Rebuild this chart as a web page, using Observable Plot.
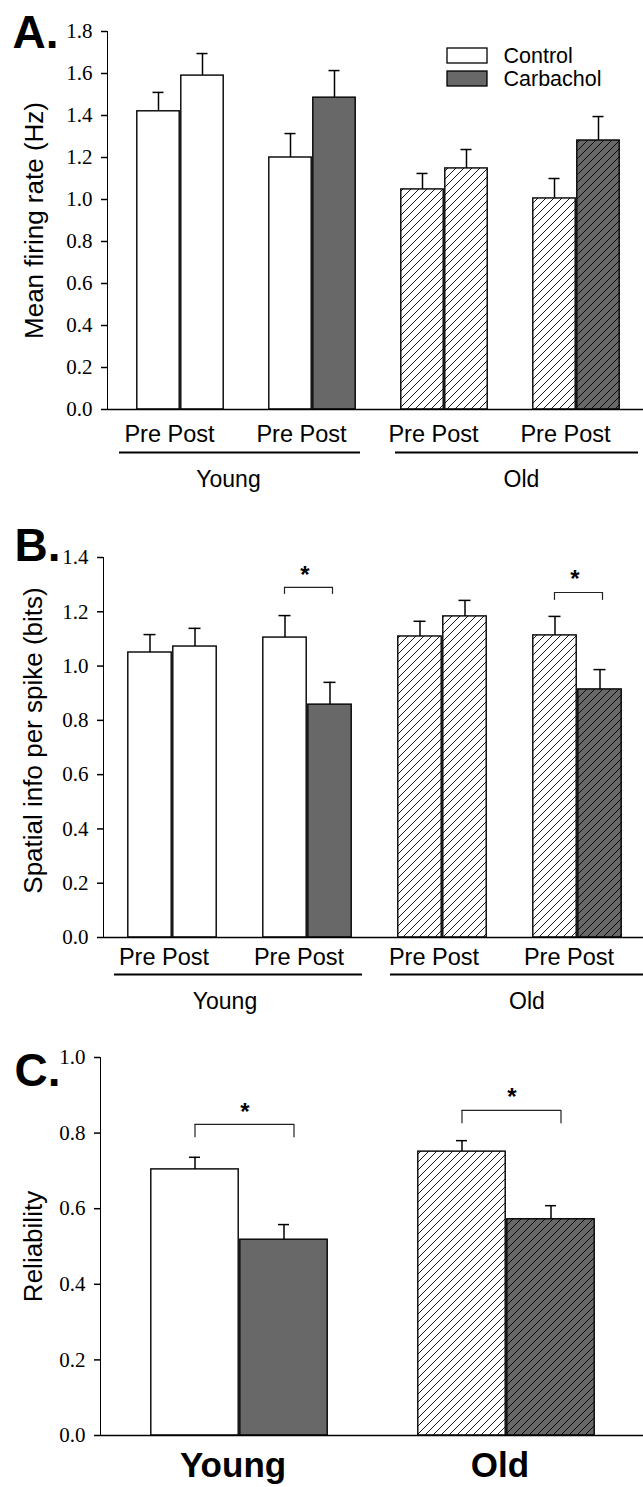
<!DOCTYPE html>
<html><head><meta charset="utf-8">
<script src="https://cdn.jsdelivr.net/npm/d3@7"></script>
<script src="https://cdn.jsdelivr.net/npm/@observablehq/plot@0.6"></script>
<style>
html,body{margin:0;padding:0;background:#fff}
#root{position:relative;width:643px;height:1487px;overflow:hidden;background:#fff}
#root svg{position:absolute;left:0;display:block}
#root g[aria-label^="y-axis"] path, #root g[aria-label^="y-axis"] line{stroke-width:1.5px}
</style></head><body>
<div id="root"></div>
<script>
// ---------------- data ----------------
const ages = ["Young", "Old"];
const barAge   = ["Young","Young","Young","Young","Old","Old","Old","Old"];
const barDrug  = ["Control","Control","Carbachol","Carbachol","Control","Control","Carbachol","Carbachol"];
const barPhase = ["Pre","Post","Pre","Post","Pre","Post","Pre","Post"];

// Panel A: mean firing rate (Hz)
const rateMean = [1.42, 1.59, 1.20, 1.485, 1.048, 1.148, 1.005, 1.281];
const rateSEM  = [0.09, 0.105, 0.114, 0.129, 0.076, 0.09, 0.095, 0.114];
// Panel B: spatial info per spike (bits)
const infoMean = [1.05, 1.072, 1.105, 0.858, 1.109, 1.183, 1.113, 0.914];
const infoSEM  = [0.066, 0.067, 0.081, 0.082, 0.056, 0.059, 0.07, 0.073];
// Panel C: reliability
const relAge  = ["Young","Young","Old","Old"];
const relDrug = ["Control","Carbachol","Control","Carbachol"];
const relMean = [0.704, 0.518, 0.751, 0.572];
const relSEM  = [0.032, 0.040, 0.029, 0.036];

const ticksA = [0, 0.2, 0.4, 0.6, 0.8, 1.0, 1.2, 1.4, 1.6, 1.8];
const ticksB = [0, 0.2, 0.4, 0.6, 0.8, 1.0, 1.2, 1.4];
const ticksC = [0, 0.2, 0.4, 0.6, 0.8, 1.0];

const legendLabels = ["Control", "Carbachol"];
const titleA = "Mean firing rate (Hz)";
const titleB = "Spatial info per spike (bits)";
const titleC = "Reliability";

// significance brackets (bar index from, to; bracket level, leg end, star level)
const sigB = [
  {from: 2, to: 3, y: 1.29, leg: 1.264, star: 1.352},
  {from: 6, to: 7, y: 1.271, leg: 1.242, star: 1.338}
];
const sigC = [
  {from: 0, to: 1, y: 0.823, leg: 0.788, star: 0.868},
  {from: 2, to: 3, y: 0.86, leg: 0.825, star: 0.907}
];

// ---------------- helpers ----------------
const DARK = "#686868";
const sans = "'Liberation Sans', Arial, sans-serif";
const serif = "'Liberation Serif', 'Times New Roman', serif";
const keyAB = i => `${barAge[i]} ${barDrug[i]} ${barPhase[i]}`;
const keyC = i => `${relAge[i]} ${relDrug[i]}`;
const condAB = i => (barDrug[i] === "Carbachol" && barPhase[i] === "Post") ? "Carbachol" : "Control";

function fillFor(panel, age, cond) {
  if (age === "Young") return cond === "Control" ? "white" : DARK;
  return `url(#${panel}-hatch-${cond === "Control" ? "light" : "dark"})`;
}

// band domain with spacer slots between pairs
const domainAB = [];
barAge.forEach((a, i) => {
  if (i > 0 && i % 2 === 0) domainAB.push(" gap" + i);
  domainAB.push(keyAB(i));
});
const domainC = [keyC(0), keyC(1), " gap", keyC(2), keyC(3)];

function rowsAB(means, sems, panel) {
  return barAge.map((age, i) => ({
    key: keyAB(i), age, drug: barDrug[i], phase: barPhase[i],
    mean: means[i], hi: means[i] + sems[i], fill: fillFor(panel, age, condAB(i))
  }));
}
const pairsAB = [0, 2, 4, 6].map(i => ({key: keyAB(i), age: barAge[i], label: barPhase[i] + " " + barPhase[i + 1]}));
const spansAB = ages.map(a => {
  const idx = barAge.map((x, i) => x === a ? i : -1).filter(i => i >= 0);
  return {age: a, from: keyAB(idx[0]), to: keyAB(idx[idx.length - 1]), mid: domainAB[domainAB.indexOf(keyAB(idx[1])) + 1]};
});

function addPatterns(svg, id) {
  const defs = d3.select(svg).insert("defs", ":first-child");
  [["light", "white"], ["dark", DARK]].forEach(([n, bg]) => {
    const p = defs.append("pattern").attr("id", `${id}-hatch-${n}`)
      .attr("patternUnits", "userSpaceOnUse").attr("width", 8).attr("height", 8);
    p.append("rect").attr("width", 8).attr("height", 8).attr("fill", bg);
    p.append("path").attr("d", "M-2,2L2,-2M0,8L8,0M6,10L10,6")
      .attr("stroke", "black").attr("stroke-width", 0.9).attr("fill", "none");
  });
}

function barMarks(rows, capInset) {
  return [
    Plot.barY(rows, {x: "key", y: "mean", fill: "fill", stroke: "black", strokeWidth: 1.4, insetLeft: 0.8, insetRight: 0.8}),
    Plot.ruleX(rows, {x: "key", y1: "mean", y2: "hi", stroke: "black", strokeWidth: 1.5}),
    Plot.tickY(rows, {x: "key", y: "hi", stroke: "black", strokeWidth: 1.5, insetLeft: capInset, insetRight: capInset}),
    Plot.ruleY([0], {stroke: "black", strokeWidth: 1.6})
  ];
}

function sigMarks(sigs, keyFn, o) {
  const d = sigs.map(s => ({from: keyFn(s.from), to: keyFn(s.to), y: s.y, leg: s.leg, star: s.star}));
  return [
    Plot.ruleY(d, {x1: "from", x2: "to", y: "y", stroke: "#222", strokeWidth: 1.2, insetLeft: o.inL, insetRight: o.inR}),
    Plot.ruleX(d, {x: "from", y1: "leg", y2: "y", stroke: "#222", strokeWidth: 1.2, dx: o.legL}),
    Plot.ruleX(d, {x: "to", y1: "leg", y2: "y", stroke: "#222", strokeWidth: 1.2, dx: o.legR}),
    Plot.text(d, {x: "from", y: "star", text: () => "*", dx: o.starDx, dy: 5, fontFamily: sans, fontWeight: "bold", fontSize: 24})
  ];
}

function abLabelMarks(o) {
  return [
    Plot.text(pairsAB, {x: "key", text: "label", frameAnchor: "bottom", lineAnchor: "middle", dx: o.pairDx, dy: o.pairDy, fontFamily: sans, fontSize: 23.5}),
    Plot.ruleY(spansAB.filter(s => s.age === "Young"), {x1: "from", x2: "to", y: () => 0, dy: o.lineDy, stroke: "black", strokeWidth: 2, insetLeft: o.yL, insetRight: o.yR}),
    Plot.ruleY(spansAB.filter(s => s.age === "Old"), {x1: "from", x2: "to", y: () => 0, dy: o.lineDy, stroke: "black", strokeWidth: 2, insetLeft: o.oL, insetRight: o.oR}),
    Plot.text(spansAB.filter(s => s.age === "Young"), {x: "mid", text: "age", frameAnchor: "bottom", lineAnchor: "middle", dx: o.youngDx, dy: o.ageDy, fontFamily: sans, fontSize: 23}),
    Plot.text(spansAB.filter(s => s.age === "Old"), {x: "mid", text: "age", frameAnchor: "bottom", lineAnchor: "middle", dx: o.oldDx, dy: o.ageDy, fontFamily: sans, fontSize: 23})
  ];
}

function titleMarks(title, letter, o) {
  return [
    Plot.text([title], {text: d => d, frameAnchor: "left", textAnchor: "middle", lineAnchor: "middle", rotate: -90, dx: o.titleDx, dy: o.titleDy, fontFamily: sans, fontSize: 26}),
    Plot.text([letter], {text: d => d, frameAnchor: "top-left", textAnchor: "start", lineAnchor: "top", dx: o.letterDx, dy: o.letterDy, fontFamily: sans, fontWeight: "bold", fontSize: 46})
  ];
}

const baseStyle = {fontFamily: serif, fontSize: "21px", color: "black", background: "white", overflow: "visible"};
const root = document.getElementById("root");

// ---------------- Panel A ----------------
const rA = rowsAB(rateMean, rateSEM, "A");
const A = Plot.plot({
  width: 643, height: 500,
  marginTop: 31, marginBottom: 91, marginLeft: 107, marginRight: 0,
  style: baseStyle,
  x: {domain: domainAB, range: [131, 625], padding: 0, axis: null},
  y: {domain: [0, 1.8], ticks: ticksA, tickFormat: d3.format(".1f"), tickSize: 6, tickPadding: 9, label: null, line: true},
  color: {type: "identity"},
  marks: [
    ...barMarks(rA, 16.5),
    ...abLabelMarks({pairDx: 11, pairDy: 25, lineDy: 43, yL: -17, yR: -4, oL: -5, oR: -18, youngDx: -18, oldDx: 11, ageDy: 70}),
    ...titleMarks(titleA, "A.", {titleDx: -73, titleDy: 0, letterDx: -95, letterDy: -16})
  ]
});
addPatterns(A, "A");
A.style.top = "0px";
root.appendChild(A);

// legend (inside panel A)
const legendRows = legendLabels.map(l => ({label: l, fill: fillFor("A", "Young", l)}));
const L = Plot.plot({
  width: 190, height: 56, marginTop: 0, marginBottom: 0, marginLeft: 0, marginRight: 150,
  style: {fontFamily: sans, fontSize: "21.5px", color: "black", background: "transparent", overflow: "visible"},
  y: {domain: legendLabels, padding: 0.35, axis: null},
  color: {type: "identity"},
  marks: [
    Plot.cell(legendRows, {y: "label", fill: "fill", stroke: "black", strokeWidth: 1.3}),
    Plot.text(legendRows, {y: "label", text: "label", frameAnchor: "right", textAnchor: "start", dx: 16, fontFamily: sans, fontSize: 21.5})
  ]
});
L.style.top = "39px"; L.style.left = "447px";
root.appendChild(L);

// ---------------- Panel B ----------------
const rB = rowsAB(infoMean, infoSEM, "B");
const B = Plot.plot({
  width: 643, height: 520,
  marginTop: 57, marginBottom: 83, marginLeft: 103, marginRight: 0,
  style: baseStyle,
  x: {domain: domainAB, range: [127, 622], padding: 0, axis: null},
  y: {domain: [0, 1.4], ticks: ticksB, tickFormat: d3.format(".1f"), tickSize: 6, tickPadding: 9, label: null, line: true},
  color: {type: "identity"},
  marks: [
    ...barMarks(rB, 16.5),
    ...sigMarks(sigB, keyAB, {inL: 22, inR: 19.5, legL: -0.5, legR: 2.5, starDx: 20}),
    ...abLabelMarks({pairDx: 14, pairDy: 19.5, lineDy: 37, yL: -13, yR: -10, oL: -7, oR: -21, youngDx: -15, oldDx: 17, ageDy: 64}),
    ...titleMarks(titleB, "B.", {titleDx: -70, titleDy: -7, letterDx: -89, letterDy: -29})
  ]
});
addPatterns(B, "B");
B.style.top = "500px";
root.appendChild(B);

// ---------------- Panel C ----------------
const rC = relAge.map((age, i) => ({key: keyC(i), age, drug: relDrug[i], mean: relMean[i], hi: relMean[i] + relSEM[i], fill: fillFor("C", age, relDrug[i])}));
const labelsC = ages.map(a => ({age: a, key: keyC(relAge.indexOf(a))}));
const C = Plot.plot({
  width: 643, height: 467,
  marginTop: 37, marginBottom: 52, marginLeft: 100, marginRight: 0,
  style: baseStyle,
  x: {domain: domainC, range: [148, 597], padding: 0, axis: null},
  y: {domain: [0, 1.0], ticks: ticksC, tickFormat: d3.format(".1f"), tickSize: 6, tickPadding: 9, label: null, line: true},
  color: {type: "identity"},
  marks: [
    ...barMarks(rC, 39),
    ...sigMarks(sigC, keyC, {inL: 44.5, inR: 34, legL: 0, legR: 10, starDx: 50}),
    Plot.text(labelsC, {x: "key", text: "age", frameAnchor: "bottom", lineAnchor: "middle", dx: 38, dy: 30.5, fontFamily: sans, fontWeight: "bold", fontSize: 35}),
    ...titleMarks(titleC, "C.", {titleDx: -67, titleDy: 0, letterDx: -86, letterDy: -4})
  ]
});
addPatterns(C, "C");
C.style.top = "1020px";
root.appendChild(C);
</script>
</body></html>
